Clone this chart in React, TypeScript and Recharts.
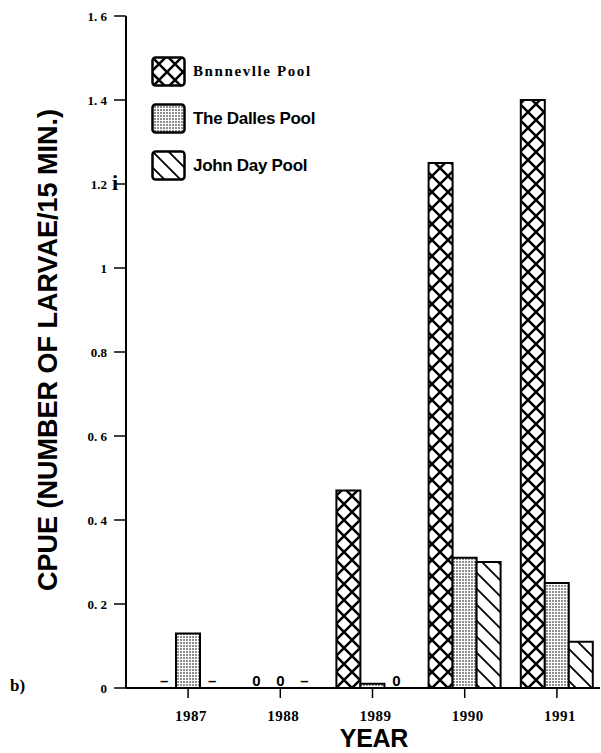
import React from 'react';
import { BarChart, Bar, XAxis, YAxis, Legend, Label } from 'recharts';

const years = ['1987', '1988', '1989', '1990', '1991'];
const bonneville = [0, 0, 0.47, 1.25, 1.4];
const dalles = [0.13, 0, 0.01, 0.31, 0.25];
const johnDay = [0, 0, 0, 0.3, 0.11];

// markers printed above empty categories ("–" = no sample, "0" = none caught)
const bonnevilleMarks = ['–', '0', '', '', ''];
const dallesMarks = ['', '0', '', '', ''];
const johnDayMarks = ['–', '–', '0', '', ''];

const seriesNames = ['Bnnnevlle Pool', 'The Dalles Pool', 'John Day Pool'];
const yTicks = [0, 0.2, 0.4, 0.6, 0.8, 1, 1.2, 1.4, 1.6];
const yTickLabels = ['0', '0. 2', '0. 4', '0. 6', '0.8', '1', '1.2', '1. 4', '1. 6'];

const data = years.map((year, i) => ({
    year,
    bonneville: bonneville[i],
    dalles: dalles[i],
    johnDay: johnDay[i],
}));

const serif = '"Liberation Serif", "DejaVu Serif", serif';
const sans = '"Liberation Sans", Arial, sans-serif';

const BAR_SIZE = 24;
const TICK_SIZE = 10;
const TICK_MARGIN = 12;

const legendTextStyles: React.CSSProperties[] = [
    { fontFamily: serif, fontWeight: 'bold', fontSize: 15, letterSpacing: 1.6 },
    { fontFamily: sans, fontWeight: 'bold', fontSize: 17, letterSpacing: -0.3 },
    { fontFamily: sans, fontWeight: 'bold', fontSize: 17, letterSpacing: -0.3 },
];

const renderLegend = (props: any) => {
    const items = [...(props.payload || [])].sort(
        (a: any, b: any) => seriesNames.indexOf(a.value) - seriesNames.indexOf(b.value)
    );
    return (
        <div>
            {items.map((entry: any) => {
                const i = seriesNames.indexOf(entry.value);
                return (
                    <div key={entry.value} style={{ display: 'flex', alignItems: 'center', height: 47 }}>
                        <svg width={36} height={32} style={{ display: 'block' }}>
                            <rect x={1.5} y={1.5} width={32} height={28} rx={3} fill={entry.color} stroke="#000" strokeWidth={2.5} />
                        </svg>
                        <span style={{ marginLeft: 6, color: '#000', ...legendTextStyles[i] }}>{entry.value}</span>
                    </div>
                );
            })}
        </div>
    );
};

// year label plus the "–" / "0" markers sitting on the axis for empty bars
const YearTick = (props: any) => {
    const { x, y, payload } = props;
    const idx = payload.index;
    const axisY = y - TICK_SIZE - TICK_MARGIN;
    const marks = [bonnevilleMarks[idx], dallesMarks[idx], johnDayMarks[idx]];
    return (
        <g>
            <text
                x={x + 3}
                y={y}
                dy="0.71em"
                textAnchor="middle"
                fontFamily={serif}
                fontWeight="bold"
                fontSize={15}
                letterSpacing={0.5}
                fill="#000"
            >
                {payload.value}
            </text>
            {marks.map((m, k) =>
                m ? (
                    <text
                        key={k}
                        x={x + (k - 1) * BAR_SIZE}
                        y={axisY - 2}
                        textAnchor="middle"
                        fontFamily={sans}
                        fontWeight="bold"
                        fontSize={15}
                        fill="#000"
                    >
                        {m}
                    </text>
                ) : null
            )}
        </g>
    );
};

const App: React.FC = () => {
    return (
        <div style={{ position: 'absolute', left: 0, top: 0, width: 601, height: 753, background: '#fff' }}>
            <BarChart
                width={601}
                height={753}
                data={data}
                margin={{ top: 16, right: 1, left: 0, bottom: 0 }}
                barGap={0}
                barSize={BAR_SIZE}
            >
                <defs>
                    <pattern id="xhatch" patternUnits="userSpaceOnUse" width={16} height={16}>
                        <rect width={16} height={16} fill="#fff" />
                        <path d="M0,0 L16,16 M16,0 L0,16" stroke="#000" strokeWidth={2.5} />
                    </pattern>
                    <pattern id="stipple" patternUnits="userSpaceOnUse" width={3} height={3}>
                        <rect width={3} height={3} fill="#fff" />
                        <circle cx={1} cy={1} r={0.8} fill="#000" />
                    </pattern>
                    <pattern id="diag" patternUnits="userSpaceOnUse" width={16} height={16}>
                        <rect width={16} height={16} fill="#fff" />
                        <path d="M-4,-4 L20,20 M-4,12 L4,20 M12,-4 L20,4" stroke="#000" strokeWidth={1.8} />
                    </pattern>
                </defs>
                <XAxis
                    dataKey="year"
                    height={65}
                    padding={{ left: 16, right: -3 }}
                    axisLine={{ stroke: '#000', strokeWidth: 2 }}
                    tickLine={{ stroke: '#000', strokeWidth: 1.5 }}
                    tickSize={TICK_SIZE}
                    tickMargin={TICK_MARGIN}
                    tick={<YearTick />}
                >
                    <Label
                        content={({ viewBox }: any) => (
                            <text
                                x={viewBox.x + viewBox.width / 2 + 11}
                                y={viewBox.y + viewBox.height - 6}
                                textAnchor="middle"
                                fontFamily={sans}
                                fontWeight="bold"
                                fontSize={25}
                                letterSpacing={-0.3}
                                fill="#000"
                            >
                                YEAR
                            </text>
                        )}
                    />
                </XAxis>
                <YAxis
                    width={126}
                    domain={[0, 1.6]}
                    ticks={yTicks}
                    interval={0}
                    tickFormatter={(v: number, i: number) => yTickLabels[i]}
                    axisLine={{ stroke: '#000', strokeWidth: 2 }}
                    tickLine={{ stroke: '#000', strokeWidth: 1.5 }}
                    tickSize={12}
                    tickMargin={7}
                    tick={{ fill: '#000', fontFamily: serif, fontWeight: 'bold', fontSize: 13 }}
                >
                    <Label
                        content={({ viewBox }: any) => {
                            const cx = 57;
                            const cy = viewBox.y + viewBox.height / 2 - 2;
                            return (
                                <text
                                    x={cx}
                                    y={cy}
                                    transform={`rotate(-90, ${cx}, ${cy})`}
                                    textAnchor="middle"
                                    fontFamily={sans}
                                    fontWeight="bold"
                                    fontSize={27}
                                    fill="#000"
                                >
                                    CPUE (NUMBER OF LARVAE/15 MIN.)
                                </text>
                            );
                        }}
                    />
                </YAxis>
                <Legend
                    layout="vertical"
                    align="center"
                    verticalAlign="middle"
                    content={renderLegend}
                    wrapperStyle={{ left: 151, top: 48, width: 240 }}
                />
                <Bar dataKey="bonneville" name={seriesNames[0]} fill="url(#xhatch)" stroke="#000" strokeWidth={2} isAnimationActive={false} />
                <Bar dataKey="dalles" name={seriesNames[1]} fill="url(#stipple)" stroke="#000" strokeWidth={2} isAnimationActive={false} />
                <Bar dataKey="johnDay" name={seriesNames[2]} fill="url(#diag)" stroke="#000" strokeWidth={2} isAnimationActive={false} />
            </BarChart>
            <div style={{ position: 'absolute', left: 10, top: 676, fontFamily: serif, fontWeight: 'bold', fontSize: 17 }}>b)</div>
            <div style={{ position: 'absolute', left: 112, top: 170, fontFamily: serif, fontWeight: 'bold', fontSize: 22 }}>i</div>
        </div>
    );
};

export default App;
